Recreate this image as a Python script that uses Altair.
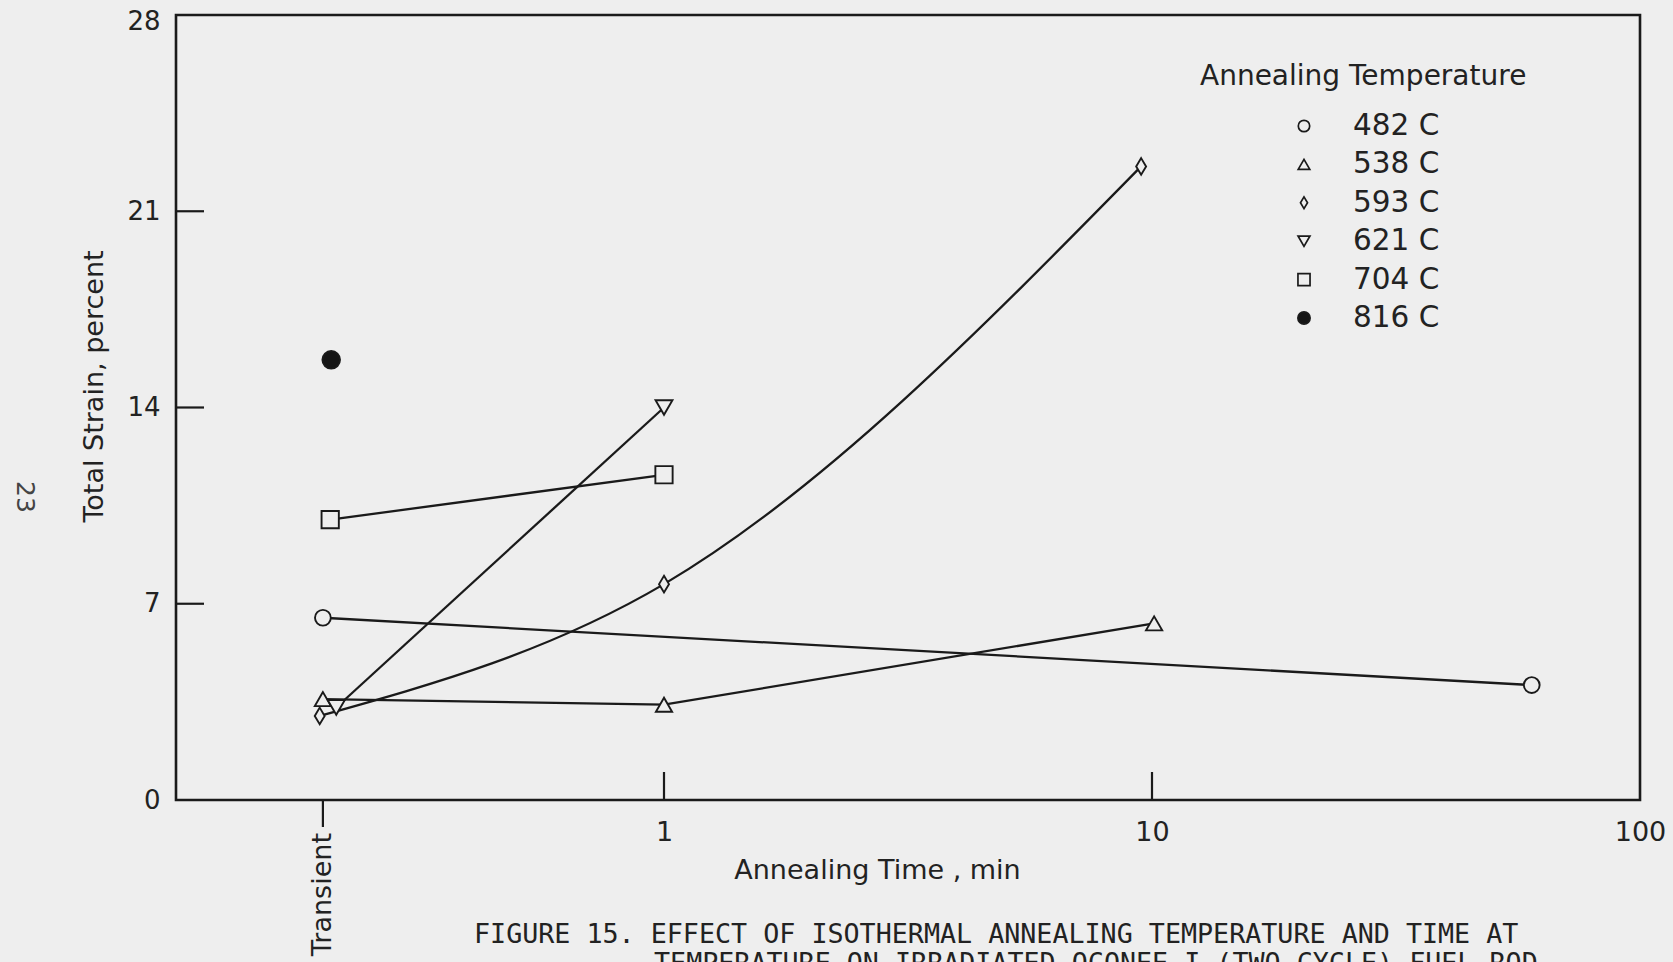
import altair as alt
import pandas as pd

BG = "#eeeeee"
INK = "#1a1a1a"
TXT = "#222222"

# ---- data ----
temps = ["482 C", "538 C", "593 C", "621 C", "704 C", "816 C"]

t_482 = [0.2, 60.0]
s_482 = [6.5, 4.1]
t_538 = [0.2, 1.0, 10.1]
s_538 = [3.6, 3.4, 6.3]
t_593 = [0.197, 1.0, 9.5]
s_593 = [3.0, 7.7, 22.6]
t_621 = [0.213, 1.0]
s_621 = [3.3, 14.0]
t_704 = [0.207, 1.0]
s_704 = [10.0, 11.6]
t_816 = [0.208]
s_816 = [15.7]

x_tick_values = [1, 10, 100]
x_inner_ticks = [1, 10]
transient_time = [0.2]
transient_label = ["Transient"]
y_tick_values = [0, 7, 14, 21, 28]
y_inner_ticks = [7, 14, 21]

legend_title = ["Annealing Temperature"]
caption_1 = ["FIGURE 15. EFFECT OF ISOTHERMAL ANNEALING TEMPERATURE AND TIME AT"]
caption_2 = ["TEMPERATURE ON IRRADIATED OCONEE I (TWO CYCLE) FUEL ROD"]
page_number = ["23"]

shapes = ["circle", "triangle-up", "M0,-1L0.6,0L0,1L-0.6,0Z", "triangle-down", "square", "circle"]
fills = [BG, BG, BG, BG, BG, "#151515"]
sizes = [250, 310, 460, 310, 290, 430]
legend_sizes = [130, 150, 220, 150, 140, 200]

rows = []
for name, ts, ss in [("482 C", t_482, s_482), ("538 C", t_538, s_538), ("593 C", t_593, s_593),
                     ("621 C", t_621, s_621), ("704 C", t_704, s_704), ("816 C", t_816, s_816)]:
    for t, s in zip(ts, ss):
        rows.append({"temp": name, "marker": name, "time": t, "strain": s})
df = pd.DataFrame(rows)

xs = alt.Scale(type="log", domain=[0.1, 100])
ys = alt.Scale(domain=[0, 28], nice=False)

x_axis = alt.Axis(values=x_tick_values, format=".0f", ticks=False, tickSize=0, domain=False, grid=False,
                  labelPadding=19, labelFontSize=27, labelColor=TXT, labelFont="DejaVu Sans",
                  labelFlush=False, labelOverlap=False,
                  title="Annealing Time , min", titleFontSize=27, titleFontWeight="normal",
                  titleColor=TXT, titleX=701, titleY=70, titleAlign="center", titleBaseline="middle",
                  titleFont="DejaVu Sans")
y_axis = alt.Axis(values=y_tick_values, ticks=False, tickSize=0, domain=False, grid=False,
                  labelPadding=16, labelFontSize=26, labelColor=TXT, labelFont="DejaVu Sans",
                  labelFlush=False, labelOverlap=False,
                  labelOffset={"condition": {"test": "datum.value == 28", "value": 6}, "value": 0},
                  title="Total Strain, percent", titleFontSize=27, titleFontWeight="normal",
                  titleColor=TXT, titleX=-82, titleY=371, titleAngle=270, titleAlign="center",
                  titleBaseline="middle", titleFont="DejaVu Sans")


def X(field):
    return alt.X(f"{field}:Q", scale=xs, axis=x_axis, title="Annealing Time , min")


def Y(field):
    return alt.Y(f"{field}:Q", scale=ys, axis=y_axis, title="Total Strain, percent")


shape_scale = alt.Scale(domain=temps, range=shapes)
fill_scale = alt.Scale(domain=temps, range=fills)

base = alt.Chart(df)

straight = base.transform_filter(
    alt.FieldOneOfPredicate(field="temp", oneOf=["482 C", "538 C", "621 C", "704 C"])
).mark_line(color=INK, strokeWidth=2.3).encode(
    x=X("time"), y=Y("strain"), detail="temp:N",
)

curve = base.transform_filter(alt.datum.temp == "593 C").mark_line(
    color=INK, strokeWidth=2.3, interpolate="monotone"
).encode(x=X("time"), y=Y("strain"))

points = base.mark_point(filled=True, stroke=INK, strokeWidth=1.9, opacity=1).encode(
    x=X("time"), y=Y("strain"),
    shape=alt.Shape("temp:N", scale=shape_scale, legend=None),
    fill=alt.Fill("temp:N", scale=fill_scale, legend=None),
    size=alt.Size("marker:N", scale=alt.Scale(domain=temps, range=sizes), legend=None),
)

y_ticks = alt.Chart(pd.DataFrame({"v": y_inner_ticks})).mark_rule(color=INK, strokeWidth=2.2).encode(
    y=Y("v"), x=alt.value(0), x2=alt.value(28)
)
x_ticks = alt.Chart(pd.DataFrame({"v": x_inner_ticks})).mark_rule(color=INK, strokeWidth=2.2).encode(
    x=X("v"), y=alt.value(757), y2=alt.value(785)
)
tr_df = pd.DataFrame({"v": transient_time, "label": transient_label})
tr_tick = alt.Chart(tr_df).mark_rule(color=INK, strokeWidth=2.2).encode(
    x=X("v"), y=alt.value(785), y2=alt.value(812)
)
tr_text = alt.Chart(tr_df).mark_text(angle=270, align="right", baseline="middle", fontSize=27,
                                     color=TXT, font="DejaVu Sans").encode(
    x=X("v"), y=alt.value(818), text="label:N"
)

main = alt.layer(straight, curve, y_ticks, x_ticks, tr_tick, tr_text, points)

# ---- legend drawn as marks ----
leg_df = pd.DataFrame({"temp": temps, "legend_marker": temps})
leg_y = alt.Y("temp:N", scale=alt.Scale(domain=temps, range=[111, 303], padding=0), axis=None)
leg_symbols = alt.Chart(leg_df).mark_point(filled=True, stroke=INK, strokeWidth=1.7, opacity=1).encode(
    x=alt.value(1128), y=leg_y,
    shape=alt.Shape("temp:N", scale=shape_scale, legend=None),
    fill=alt.Fill("temp:N", scale=fill_scale, legend=None),
    size=alt.Size("legend_marker:N", scale=alt.Scale(domain=temps, range=legend_sizes), legend=None),
)
leg_labels = alt.Chart(leg_df).mark_text(align="left", baseline="middle", fontSize=29.5,
                                         font="DejaVu Sans", color=TXT).encode(
    x=alt.value(1177), y=leg_y, text="temp:N"
)
leg_title = alt.Chart(pd.DataFrame({"t": legend_title})).mark_text(
    align="left", baseline="middle", fontSize=28, font="DejaVu Sans", color=TXT
).encode(x=alt.value(1024), y=alt.value(62), text="t:N")
legend_layer = alt.layer(leg_symbols, leg_labels, leg_title)

cap1 = alt.Chart(pd.DataFrame({"t": caption_1})).mark_text(
    align="left", baseline="middle", fontSize=26.7, font="DejaVu Sans Mono", color=TXT
).encode(x=alt.value(298), y=alt.value(920), text="t:N")
cap2 = alt.Chart(pd.DataFrame({"t": caption_2})).mark_text(
    align="left", baseline="middle", fontSize=26.7, font="DejaVu Sans Mono", color=TXT
).encode(x=alt.value(478), y=alt.value(949), text="t:N")
page = alt.Chart(pd.DataFrame({"t": page_number})).mark_text(
    angle=90, align="center", baseline="middle", fontSize=25, font="DejaVu Sans", color="#444444"
).encode(x=alt.value(-151), y=alt.value(482), text="t:N")

chart = alt.layer(main, legend_layer, cap1, cap2, page).resolve_scale(
    y="independent", size="independent"
).properties(
    width=1464, height=785,
    autosize=alt.AutoSizeParams(type="none"),
    padding={"left": 176, "top": 15, "right": 33, "bottom": 162},
).configure(
    background=BG, font="DejaVu Sans"
).configure_view(
    stroke=INK, strokeWidth=2.6
)

chart.save("out.html", embed_options={"renderer": "svg", "actions": False})
